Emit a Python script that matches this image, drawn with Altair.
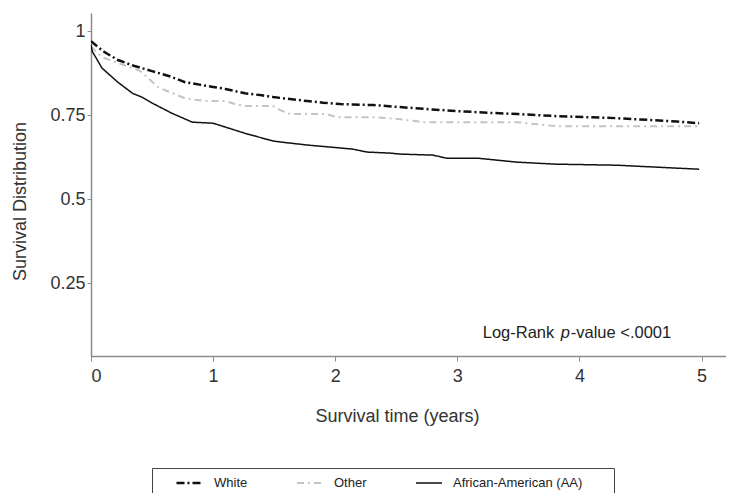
import altair as alt
import pandas as pd

groups = ["White", "Other", "African-American  (AA)"]

white_t = [0, 0.05, 0.1, 0.22, 0.35, 0.5, 0.65, 0.77, 0.9, 1.0, 1.1, 1.26, 1.4, 1.49, 1.6,
           1.77, 1.9, 2.04, 2.2, 2.31, 2.53, 2.75, 3.0, 3.25, 3.5, 3.81, 4.05, 4.3, 4.6, 4.8, 4.98]
white_s = [0.970, 0.955, 0.940, 0.914, 0.897, 0.881, 0.865, 0.848, 0.840, 0.834, 0.828, 0.815,
           0.809, 0.804, 0.799, 0.792, 0.787, 0.783, 0.781, 0.780, 0.774, 0.768, 0.762, 0.757,
           0.753, 0.747, 0.744, 0.741, 0.735, 0.731, 0.726]

other_t = [0, 0.05, 0.11, 0.2, 0.3, 0.4, 0.47, 0.55, 0.65, 0.77, 0.93, 1.1, 1.18, 1.26, 1.49,
           1.55, 1.63, 1.93, 2.01, 2.31, 2.53, 2.73, 3.49, 3.81, 4.98]
other_s = [0.955, 0.935, 0.920, 0.908, 0.895, 0.882, 0.860, 0.833, 0.818, 0.800, 0.792, 0.792,
           0.783, 0.777, 0.777, 0.765, 0.753, 0.753, 0.744, 0.744, 0.738, 0.729, 0.729, 0.717, 0.717]

aa_t = [0, 0.01, 0.09, 0.22, 0.34, 0.42, 0.5, 0.66, 0.83, 1.0, 1.13, 1.26, 1.49, 1.6, 1.77,
        2.14, 2.26, 2.45, 2.53, 2.8, 2.91, 3.16, 3.49, 3.81, 4.3, 4.98]
aa_s = [0.960, 0.940, 0.890, 0.848, 0.815, 0.803, 0.786, 0.756, 0.729, 0.726, 0.711, 0.696,
        0.673, 0.668, 0.661, 0.649, 0.640, 0.637, 0.634, 0.631, 0.622, 0.622, 0.610, 0.604,
        0.601, 0.589]

x_ticks = [0, 1, 2, 3, 4, 5]
y_ticks = [0.25, 0.5, 0.75, 1]

annot_pos = [3.208, 0.101]
annot_parts = ["Log-Rank", "p", "-value <.0001"]

rows = []
for g, ts, ss in zip(groups, [white_t, other_t, aa_t], [white_s, other_s, aa_s]):
    for i, (t, s) in enumerate(zip(ts, ss)):
        rows.append({"group": g, "t": t, "s": s, "i": i})
df = pd.DataFrame(rows)

FONT = "Liberation Sans"

x_scale = alt.Scale(domain=[0, 5.2], nice=False, zero=False)
y_scale = alt.Scale(domain=[0.033, 1.054], nice=False, zero=False)

x_axis = alt.Axis(values=x_ticks, format="d", title="Survival time (years)", titleX=306,
                  titleY=60, titleAlign="center", titleBaseline="middle", tickSize=5,
                  labelPadding=6)
y_axis = alt.Axis(values=y_ticks, labelExpr="toString(datum.value)", title="Survival Distribution",
                  titleX=-71, titleY=188, titleAlign="center", titleBaseline="middle",
                  titleAngle=-90, tickSize=4, labelPadding=2)

# trailing blank (non-trimmed) characters widen the legend box on the right
PAD = "\u00a0" * 3 + "\u2800"
lab_expr = "indexof(datum.label, 'AA') >= 0 ? datum.label + '" + PAD + "' : datum.label"
leg = alt.Legend(title=" ", labelExpr=lab_expr)
lines = alt.Chart(df).mark_line(clip=True).encode(
    x=alt.X("t:Q", scale=x_scale, axis=x_axis),
    y=alt.Y("s:Q", scale=y_scale, axis=y_axis),
    color=alt.Color("group:N", scale=alt.Scale(domain=groups, range=["#111111", "#c4c4c4", "#111111"]),
                    legend=leg),
    strokeDash=alt.StrokeDash("group:N", scale=alt.Scale(domain=groups,
                              range=[[8, 3, 2, 3], [7, 4, 2, 4], [1, 0]]), legend=leg),
    strokeWidth=alt.StrokeWidth("group:N", scale=alt.Scale(domain=groups, range=[2.5, 1.5, 2.3]),
                                legend=leg),
    order="i:Q",
)

adf = pd.DataFrame({"t": [annot_pos[0]], "s": [annot_pos[1]]})
offsets = [0, 78, 88]
styles = ["normal", "italic", "normal"]
texts = []
for txt, dx, st in zip(annot_parts, offsets, styles):
    texts.append(alt.Chart(adf).mark_text(text=txt, dx=dx, align="left", baseline="middle",
                                          font=FONT, fontSize=16.5, fontStyle=st, color="#222222")
                 .encode(x=alt.X("t:Q", scale=x_scale, axis=x_axis),
                         y=alt.Y("s:Q", scale=y_scale, axis=y_axis)))

chart = alt.layer(lines, *texts).properties(
    width=635, height=343,
    autosize=alt.AutoSizeParams(type="none"),
    padding={"left": 83, "top": 5, "right": 0, "bottom": 137},
).configure_view(stroke=None).configure_axis(
    grid=False, domainColor="#8a8a8a", tickColor="#8a8a8a", labelColor="#333333",
    titleColor="#333333", labelFont=FONT, titleFont=FONT, labelFontSize=18, titleFontSize=18,
    titleFontWeight="normal", domainWidth=1.5,
).configure_legend(
    orient="none", legendX=61, legendY=455, direction="horizontal",
    strokeColor="#444444", strokeWidth=1, padding=7,
    titleOrient="left", titlePadding=16, titleFontSize=13,
    labelFont=FONT, labelFontSize=13, labelColor="#222222", labelLimit=400,
    symbolType="stroke", symbolSize=676, clipHeight=16, labelOffset=10, columnPadding=48,
)

chart.save("out.html", embed_options={"renderer": "svg", "actions": False})
